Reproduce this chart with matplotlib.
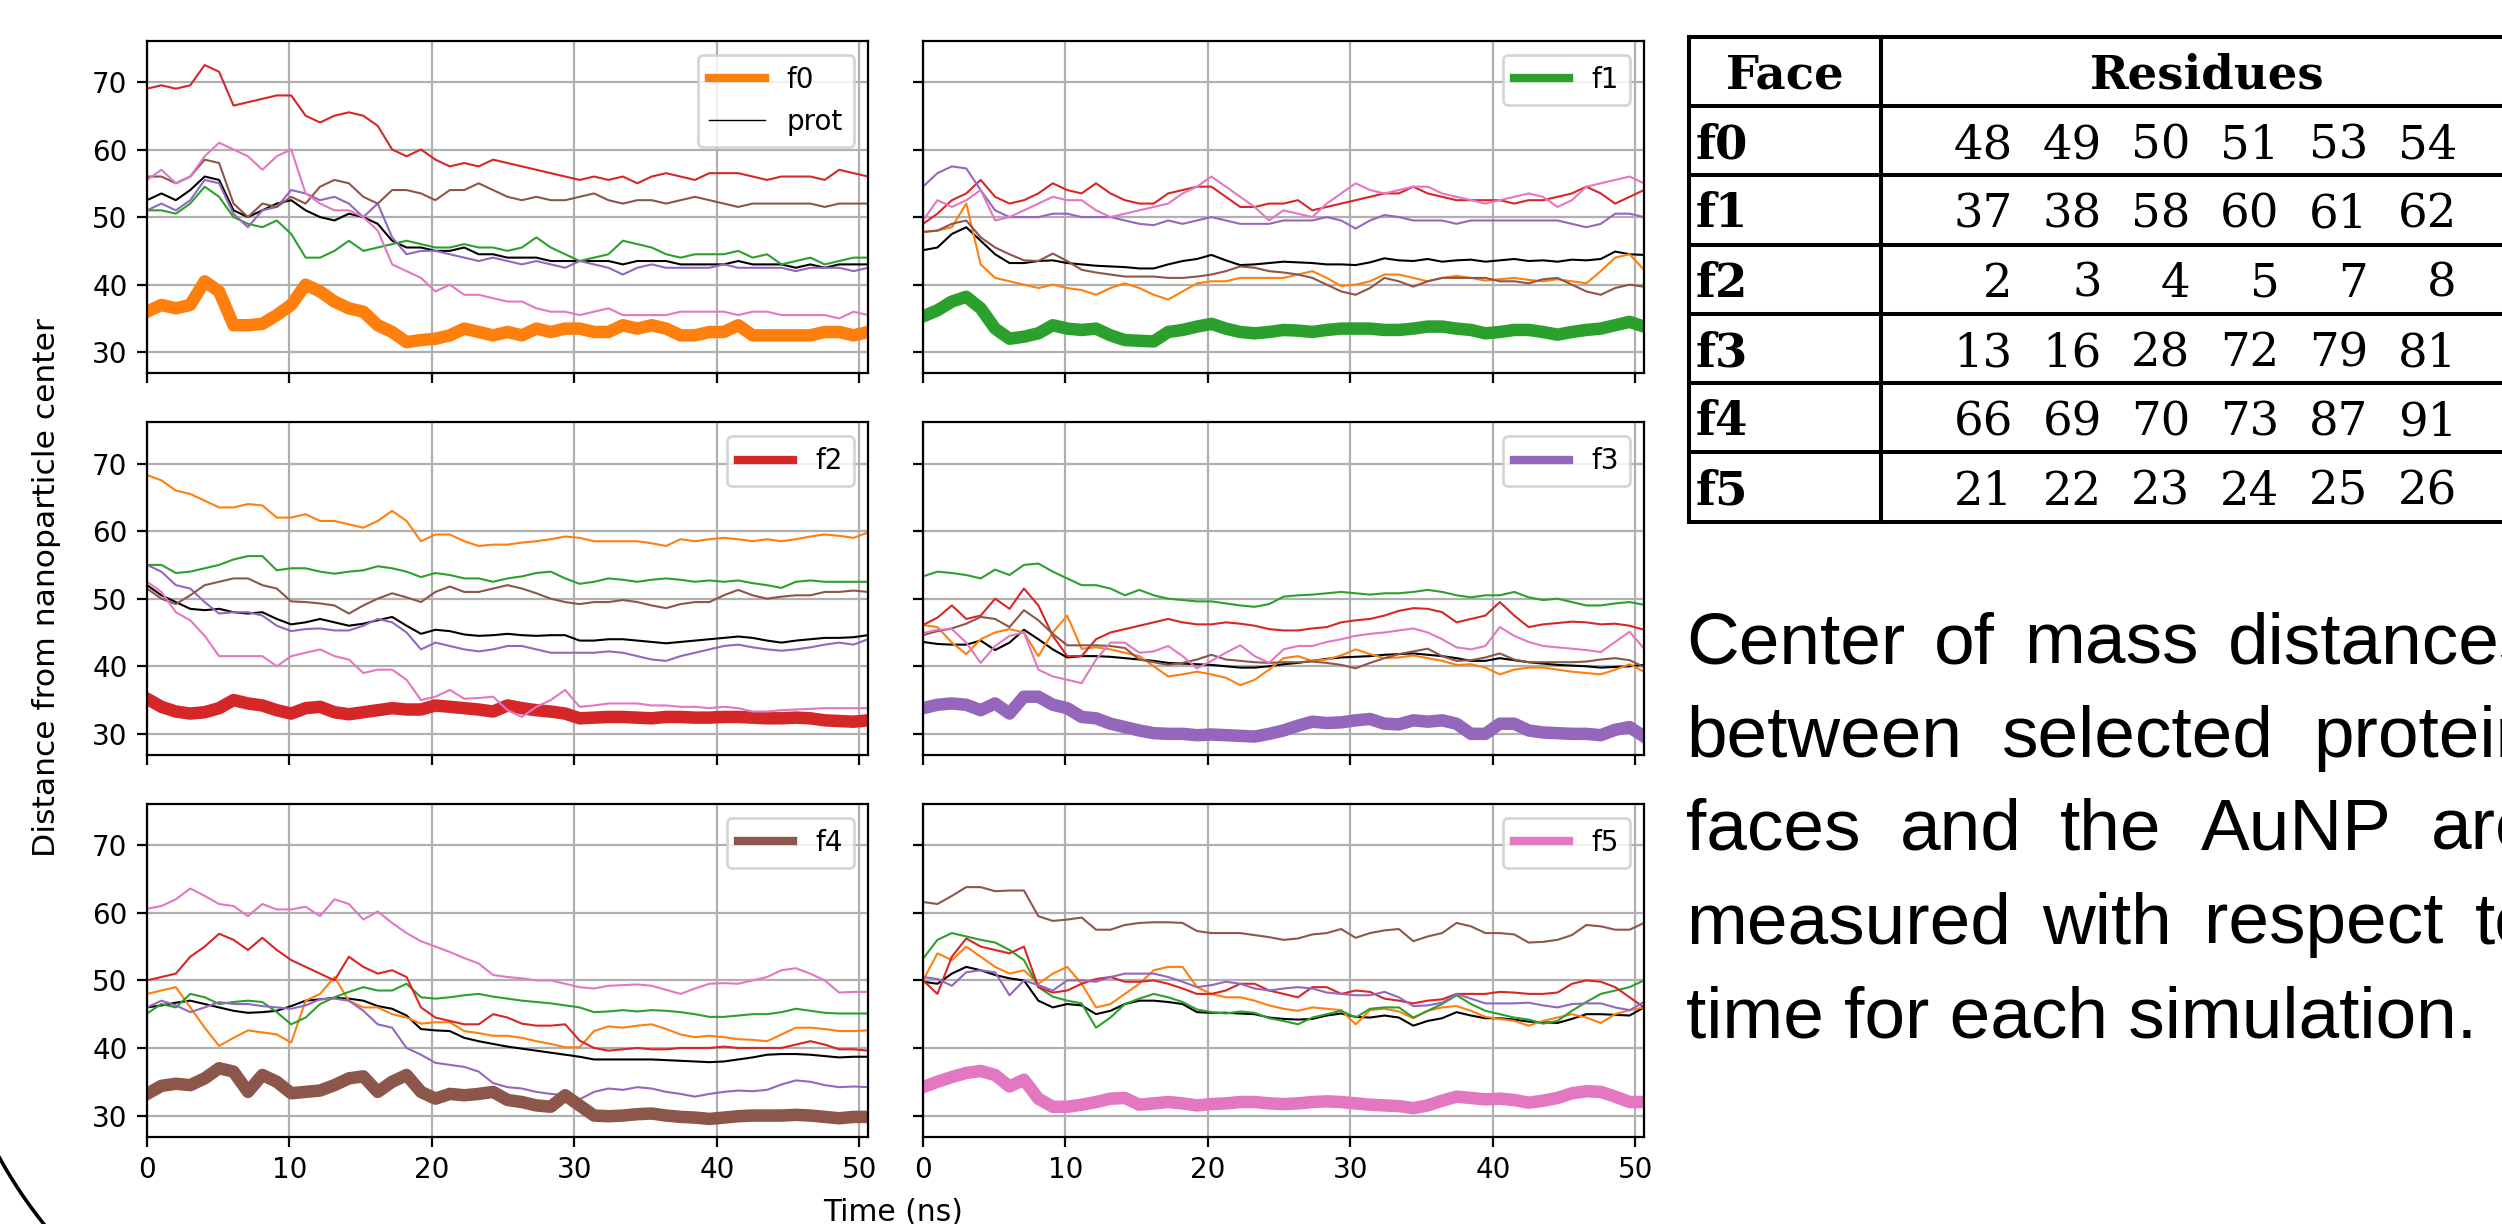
import numpy as np
import matplotlib
matplotlib.use("Agg")
import matplotlib.pyplot as plt
from matplotlib.lines import Line2D

# ------------------------------------------------------------------ data
FACES = ["f0", "f1", "f2", "f3", "f4", "f5"]
SERIES = ["prot", "f0", "f1", "f2", "f3", "f4", "f5"]
COLORS = {"prot": "black", "f0": "#ff7f0e", "f1": "#2ca02c", "f2": "#d62728",
          "f3": "#9467bd", "f4": "#8c564b", "f5": "#e377c2"}

TIME_END_NS = 50.6
time_ns = np.linspace(0, TIME_END_NS, 51)

# simulation f0
sim0_prot = [52.5, 53.5, 52.5, 54, 56, 55.5, 51, 50, 51, 52,
             52.5, 51, 50, 49.5, 50.5, 50, 49, 46.5, 45.5, 45.5,
             45, 45, 45.5, 44.5, 44.5, 44, 44, 44, 43.5, 43.5,
             43.5, 43.5, 43.5, 43, 43.5, 43.5, 43.5, 43, 43, 43,
             43, 43.5, 43, 43, 43, 42.5, 43, 42.5, 43, 43, 43]
sim0_f0 = [36, 37, 36.5, 37, 40.5, 39, 34, 34, 34.2, 35.5,
           37, 40, 39, 37.5, 36.5, 36, 34, 33, 31.5, 31.8,
           32, 32.5, 33.5, 33, 32.5, 33, 32.5, 33.5, 33, 33.5,
           33.5, 33, 33, 34, 33.5, 34, 33.5, 32.5, 32.5, 33,
           33, 34, 32.5, 32.5, 32.5, 32.5, 32.5, 33, 33, 32.5, 33]
sim0_f1 = [51, 51, 50.5, 52, 54.5, 53, 50, 49, 48.5, 49.5,
           47.5, 44, 44, 45, 46.5, 45, 45.5, 46, 46.5, 46,
           45.5, 45.5, 46, 45.5, 45.5, 45, 45.5, 47, 45.5, 44.5,
           43.5, 44, 44.5, 46.5, 46, 45.5, 44.5, 44, 44.5, 44.5,
           44.5, 45, 44, 44.5, 43, 43.5, 44, 43, 43.5, 44, 44]
sim0_f2 = [69, 69.5, 69, 69.5, 72.5, 71.5, 66.5, 67, 67.5, 68,
           68, 65, 64, 65, 65.5, 65, 63.5, 60, 59, 60,
           58.5, 57.5, 58, 57.5, 58.5, 58, 57.5, 57, 56.5, 56,
           55.5, 56, 55.5, 56, 55, 56, 56.5, 56, 55.5, 56.5,
           56.5, 56.5, 56, 55.5, 56, 56, 56, 55.5, 57, 56.5, 56]
sim0_f3 = [51, 52, 51, 52.5, 55.5, 55, 50.5, 48.5, 51, 51.5,
           54, 53.5, 52.5, 53, 52, 50, 52, 47, 44.5, 45,
           45, 44.5, 44, 43.5, 44, 43.5, 43, 43.5, 43, 42.5,
           43.5, 43, 42.5, 41.5, 42.5, 43, 42.5, 42.5, 42.5, 42.5,
           43, 42.5, 42.5, 42.5, 42.5, 42, 42.5, 42.5, 42.5, 42, 42.5]
sim0_f4 = [56, 56, 55, 56, 58.5, 58, 52, 50, 52, 51.5,
           53, 52, 54.5, 55.5, 55, 53, 52, 54, 54, 53.5,
           52.5, 54, 54, 55, 54, 53, 52.5, 53, 52.5, 52.5,
           53, 53.5, 52.5, 52, 52.5, 52.5, 52, 52.5, 53, 52.5,
           52, 51.5, 52, 52, 52, 52, 52, 51.5, 52, 52, 52]
sim0_f5 = [55.5, 57, 55, 56, 59, 61, 60, 59, 57, 59,
           60, 53.5, 52, 51, 51, 50, 48, 43, 42, 41,
           39, 40, 38.5, 38.5, 38, 37.5, 37.5, 36.5, 36, 36,
           35.5, 36, 36.5, 35.5, 35.5, 35.5, 35.5, 36, 36, 36,
           36, 35.5, 36, 36, 35.5, 35.5, 35.5, 35.5, 35, 36, 35.5]

# simulation f1
sim1_prot = [45.1, 45.5, 47.5, 48.5, 46.5, 44.5, 43.2, 43.2, 43.5, 43.6,
             43.2, 43, 42.8, 42.7, 42.6, 42.4, 42.4, 43, 43.5, 43.8,
             44.4, 43.6, 42.9, 43, 43.2, 43.4, 43.3, 43.2, 43, 43,
             42.9, 43.3, 43.9, 43.6, 43.5, 43.8, 43.4, 43.6, 43.7, 43.4,
             43.6, 43.8, 43.5, 43.6, 43.4, 43.7, 43.6, 43.8, 44.9, 44.5, 44.4]
sim1_f0 = [47.8, 48, 48.5, 52, 43, 41, 40.5, 40, 39.5, 40,
           39.5, 39.2, 38.5, 39.5, 40.2, 39.5, 38.5, 37.8, 39, 40.2,
           40.5, 40.5, 41, 41, 41, 41, 41.5, 42, 41, 39.8,
           40, 40.5, 41.5, 41.5, 41, 40.5, 41, 41.3, 41, 40.6,
           40.8, 41, 40.7, 40.5, 40.8, 40.5, 40.2, 42, 44, 44.5, 42.2]
sim1_f1 = [35.3, 36.2, 37.5, 38.2, 36.5, 33.5, 32, 32.3, 32.8, 34,
           33.5, 33.3, 33.5, 32.5, 31.8, 31.7, 31.6, 33, 33.3, 33.8,
           34.2, 33.5, 33, 32.8, 33, 33.3, 33.2, 33, 33.3, 33.5,
           33.5, 33.5, 33.3, 33.3, 33.5, 33.8, 33.8, 33.5, 33.3, 32.8,
           33, 33.3, 33.3, 33, 32.6, 33, 33.3, 33.5, 34, 34.5, 33.8]
sim1_f2 = [49, 50.5, 52.5, 53.5, 55.5, 53, 52, 52.5, 53.5, 55,
           54, 53.5, 55, 53.5, 52.5, 52, 52, 53.5, 54, 54.5,
           54.5, 53, 51.5, 51.5, 52, 52, 52.5, 51, 51.5, 52,
           52.5, 53, 53.5, 53.5, 54.5, 53.5, 53, 52.5, 52.5, 52.5,
           52.5, 52, 52.5, 52.5, 53, 53.5, 54.5, 53.5, 52, 53, 54]
sim1_f3 = [54.5, 56.5, 57.5, 57.2, 54, 51, 50, 50, 50, 50.5,
           50.5, 50, 50, 50, 49.5, 49, 48.8, 49.5, 49, 49.5,
           50, 49.5, 49, 49, 49, 49.5, 49.5, 49.5, 50, 49.5,
           48.3, 49.5, 50.3, 50, 49.5, 49.5, 49.5, 49, 49.5, 49.5,
           49.5, 49.5, 49.5, 49.5, 49.5, 49, 48.5, 49, 50.5, 50.5, 50]
sim1_f4 = [47.8, 48, 49, 49.5, 47, 45.5, 44.5, 43.6, 43.5, 44.6,
           43.5, 42.2, 41.8, 41.5, 41.2, 41.2, 41.2, 41, 41, 41.2,
           41.5, 42, 42.7, 42.5, 42, 41.8, 41.5, 41, 40, 39,
           38.5, 39.5, 41, 40.5, 39.7, 40.5, 41, 41, 41, 41,
           40.5, 40.5, 40.2, 40.8, 41, 40, 39, 38.5, 39.5, 40, 39.7]
sim1_f5 = [49.5, 52.5, 51.5, 52.5, 54, 49.5, 50, 51, 52, 53,
           52.5, 52.5, 51, 50, 50.5, 51, 51.5, 52, 53.5, 54.5,
           56, 54.5, 53, 51.5, 49.5, 51, 50.5, 50, 52, 53.5,
           55, 54, 53.5, 54, 54.5, 54.5, 53.5, 53, 52.5, 52,
           52.5, 53, 53.5, 53, 51.5, 52.5, 54.5, 55, 55.5, 56, 55]

# simulation f2
sim2_prot = [52, 50.5, 49.5, 48.5, 48.3, 48.5, 48, 47.8, 48, 47,
             46.2, 46.5, 47, 46.5, 46, 46.3, 46.8, 47.3, 46, 44.8,
             45.4, 45.2, 44.7, 44.5, 44.6, 44.8, 44.6, 44.5, 44.6, 44.6,
             43.8, 43.8, 44, 44, 43.8, 43.6, 43.4, 43.6, 43.8, 44,
             44.2, 44.4, 44.2, 43.8, 43.5, 43.8, 44, 44.2, 44.2, 44.3, 44.6]
sim2_f0 = [68.3, 67.5, 66, 65.5, 64.5, 63.5, 63.5, 64, 63.8, 62,
           62, 62.5, 61.5, 61.5, 61, 60.5, 61.5, 63, 61.5, 58.5,
           59.5, 59.5, 58.5, 57.8, 58, 58, 58.3, 58.5, 58.8, 59.2,
           59, 58.5, 58.5, 58.5, 58.5, 58.2, 57.8, 58.8, 58.5, 58.8,
           59, 58.8, 58.5, 58.8, 58.5, 58.8, 59.2, 59.5, 59.3, 59, 59.8]
sim2_f1 = [55, 55, 53.8, 54, 54.5, 55, 55.8, 56.3, 56.3, 54.2,
           54.5, 54.5, 54, 53.7, 54, 54.2, 54.8, 54.5, 54, 53.2,
           53.8, 53.5, 53, 53, 52.5, 53, 53.3, 53.8, 54, 53,
           52.2, 52.5, 53, 52.8, 52.5, 52.8, 53, 52.8, 52.5, 52.7,
           52.5, 52.7, 52.3, 52, 51.6, 52.5, 52.7, 52.5, 52.5, 52.5, 52.5]
sim2_f2 = [35.2, 34, 33.3, 33, 33.2, 33.8, 35, 34.5, 34.2, 33.5,
           33, 33.8, 34, 33.2, 32.9, 33.2, 33.5, 33.8, 33.6, 33.6,
           34.2, 34, 33.8, 33.6, 33.3, 34.2, 33.8, 33.5, 33.3, 33,
           32.3, 32.4, 32.5, 32.5, 32.4, 32.3, 32.5, 32.5, 32.4, 32.4,
           32.5, 32.5, 32.4, 32.3, 32.3, 32.4, 32.3, 32, 31.9, 31.8, 32]
sim2_f3 = [55, 54, 52, 51.5, 49.5, 47.8, 48, 48, 47.5, 46,
           45.2, 45.5, 45.6, 45.3, 45.3, 46, 47, 46.5, 45, 42.5,
           43.5, 43, 42.5, 42.2, 42.5, 43, 43, 42.5, 42, 42,
           42, 42, 42.2, 42, 41.5, 41, 40.8, 41.5, 42, 42.5,
           43, 43.2, 42.8, 42.5, 42.3, 42.5, 42.8, 43.2, 43.5, 43.2, 44]
sim2_f4 = [51.5, 50, 49.2, 50.5, 52, 52.5, 53, 53, 52, 51.5,
           49.6, 49.5, 49.3, 49, 47.8, 49, 50, 50.8, 50.2, 49.5,
           51, 51.8, 51, 51, 51.5, 52, 51.5, 50.8, 50, 49.5,
           49.2, 49.5, 49.5, 49.8, 49.5, 49, 48.6, 49.2, 49.5, 49.5,
           50.5, 51.3, 50.5, 50, 50.3, 50.5, 50.5, 51, 51, 51.2, 51]
sim2_f5 = [52.5, 51, 48, 46.8, 44.5, 41.5, 41.5, 41.5, 41.5, 40,
           41.5, 42, 42.5, 41.5, 41, 39, 39.5, 39.5, 38, 35,
           35.5, 36.5, 35.2, 35.3, 35.5, 33.5, 32.5, 34, 35, 36.5,
           34, 34.2, 34.5, 34.5, 34.5, 34.2, 34.2, 34, 34, 33.8,
           34, 33.8, 33.3, 33.3, 33.5, 33.6, 33.7, 33.8, 33.8, 33.8, 33.8]

# simulation f3
sim3_prot = [43.6, 43.3, 43.2, 43.2, 43.8, 42.4, 43.5, 45.4, 44, 42.5,
             41.3, 41.5, 41.5, 41.4, 41.2, 41, 40.8, 40.5, 40.4, 40.3,
             40.2, 40, 39.8, 39.8, 40, 40.3, 40.5, 40.8, 41.1, 41.3,
             41.4, 41.5, 41.7, 41.8, 41.9, 41.7, 41.5, 41.2, 40.8, 40.8,
             41.2, 40.9, 40.6, 40.4, 40.2, 40.1, 40, 39.8, 39.9, 40, 40.2]
sim3_f0 = [46.1, 45.8, 43.5, 41.8, 44, 45, 45.5, 45, 41.5, 45,
           47.5, 42.6, 42.8, 42.5, 42, 41.5, 40, 38.5, 38.8, 39.2,
           38.8, 38.3, 37.2, 38, 39.5, 41.2, 41.5, 40.8, 41, 41.6,
           42.5, 41.8, 41.2, 41.3, 41.6, 41.2, 40.8, 40.2, 40.3, 39.8,
           38.8, 39.5, 39.8, 39.8, 39.5, 39.2, 39, 38.8, 39.5, 40.3, 39.2]
sim3_f1 = [53.3, 54, 53.8, 53.5, 53, 54.3, 53.5, 55, 55.2, 54,
           53, 52, 52, 51.5, 50.5, 51.3, 50.5, 50, 49.8, 49.6,
           49.6, 49.3, 49, 48.8, 49.2, 50.3, 50.5, 50.6, 50.8, 51,
           50.8, 50.6, 50.8, 50.8, 51, 51.3, 51, 50.5, 50.2, 50.5,
           50.5, 51, 50.2, 49.8, 50, 49.5, 49, 49, 49.3, 49.5, 49.1]
sim3_f2 = [46.1, 47.2, 49, 47, 47.5, 50, 48.5, 51.5, 49, 44.5,
           41.5, 41.5, 44, 45, 45.5, 46, 46.5, 47, 46.5, 46.2,
           46.2, 46.5, 46.3, 46, 45.5, 45.3, 45.3, 45.6, 45.8, 46.5,
           46.8, 47, 47.5, 48.2, 48.6, 48.5, 48, 46.5, 47, 47.5,
           49.5, 47.5, 45.8, 46.2, 46.4, 46.6, 46.5, 46.2, 46.3, 46, 45.4]
sim3_f3 = [33.8, 34.3, 34.5, 34.3, 33.5, 34.5, 33, 35.5, 35.5, 34.3,
           33.8, 32.5, 32.3, 31.5, 31, 30.5, 30.1, 30, 30, 29.8,
           29.9, 29.8, 29.7, 29.6, 30, 30.5, 31.2, 31.8, 31.6, 31.7,
           32, 32.2, 31.5, 31.4, 32, 31.8, 32, 31.5, 30, 30,
           31.5, 31.5, 30.5, 30.2, 30.1, 30, 30, 29.8, 30.6, 31, 29.6]
sim3_f4 = [44.6, 45.2, 45.6, 46.3, 47.3, 47, 45.8, 48.3, 46.8, 44.8,
           43.1, 43.1, 43.1, 43, 42.7, 41, 40.6, 40.2, 40.5, 41,
           41.7, 41, 40.8, 40.6, 40.5, 40.6, 40.6, 40.7, 40.5, 40.2,
           39.7, 40.5, 41.2, 41.8, 42.2, 42.6, 41.5, 40.8, 40.9, 41.3,
           41.9, 41, 40.6, 40.6, 40.6, 40.6, 40.7, 41, 41.2, 40.9, 39.9]
sim3_f5 = [44.9, 45.4, 45.5, 43.5, 40.5, 43, 44.5, 45, 39.5, 38.5,
           38, 37.5, 41, 43.5, 43.5, 42, 42.2, 43, 41.5, 39.7,
           40.8, 42, 43.1, 41.5, 40.5, 42.5, 43, 43, 43.6, 44,
           44.5, 44.8, 45, 45.3, 45.6, 45, 44, 42.8, 42.5, 43,
           45.8, 44.5, 43.6, 43, 42.8, 42.6, 42.4, 42.1, 43.6, 45.1, 42.6]

# simulation f4
sim4_prot = [46, 46.3, 46.7, 47, 46.5, 46, 45.5, 45.2, 45.3, 45.5,
             46.2, 47, 47.2, 47.4, 47.3, 47, 46.2, 45.8, 44.8, 42.8,
             42.6, 42.5, 41.5, 41, 40.6, 40.2, 39.9, 39.6, 39.3, 39,
             38.7, 38.3, 38.3, 38.3, 38.3, 38.3, 38.2, 38.1, 38, 37.9,
             38, 38.3, 38.6, 39, 39.1, 39.1, 39, 38.8, 38.6, 38.7, 38.7]
sim4_f0 = [48, 48.5, 49, 46, 43, 40.3, 41.5, 42.6, 42.3, 42,
           40.8, 47, 48, 50.5, 47, 46, 46, 45, 44.5, 43.6,
           43.8, 43.8, 42.5, 42.2, 41.8, 41.8, 41.5, 41, 40.6, 40.1,
           40.1, 42.5, 43.2, 43, 43.3, 43.5, 42.8, 42, 41.6, 41.8,
           41.6, 41.3, 41.2, 41, 42, 43, 43, 42.8, 42.5, 42.5, 42.6]
sim4_f1 = [45.1, 46.5, 46, 48, 47.5, 46.5, 46.8, 47, 46.8, 45.3,
           43.5, 44.5, 46.5, 47.5, 48.3, 49, 48.5, 48.5, 49.5, 47.5,
           47.3, 47.5, 47.8, 48, 47.6, 47.3, 47, 46.8, 46.6, 46.3,
           46, 45.3, 45.4, 45.6, 45.4, 45.6, 45.5, 45.3, 45, 44.6,
           44.6, 44.8, 45, 45, 45.3, 45.8, 45.5, 45.2, 45.1, 45.1, 45.1]
sim4_f2 = [50, 50.5, 51, 53.5, 55, 56.9, 56, 54.5, 56.3, 54.5,
           53, 52, 51, 50, 53.5, 52, 51, 51.5, 50.5, 46,
           44.5, 44, 43.5, 43.5, 45, 44.5, 43.6, 43.3, 43.3, 43.5,
           41.1, 40, 39.6, 39.8, 40, 39.8, 39.8, 40, 40, 40,
           40.2, 40, 40, 40, 40, 40.5, 41, 40.5, 39.8, 39.8, 39.6]
sim4_f3 = [46, 47, 46.3, 45.3, 46, 46.8, 46.5, 46.5, 46.2, 46,
           45.8, 46.3, 47.2, 47.3, 47, 45.5, 43.5, 43, 40, 39,
           37.8, 37.5, 37.2, 36.5, 34.8, 34.2, 34, 33.5, 33.2, 33,
           32.4, 33.5, 34, 33.8, 34.2, 34, 33.5, 33.2, 32.8, 33.2,
           33.5, 33.7, 33.6, 33.8, 34.6, 35.2, 35, 34.5, 34.2, 34.3, 34.2]
sim4_f4 = [33.2, 34.4, 34.7, 34.5, 35.5, 37, 36.5, 33.5, 36, 35,
           33.3, 33.5, 33.7, 34.5, 35.5, 35.8, 33.5, 35, 36, 33.5,
           32.5, 33.2, 33, 33.2, 33.5, 32.3, 32, 31.5, 31.3, 33,
           31.5, 30, 29.9, 30, 30.2, 30.3, 30, 29.8, 29.7, 29.5,
           29.7, 29.9, 30, 30, 30, 30.1, 30, 29.8, 29.6, 29.8, 29.8]
sim4_f5 = [60.6, 61, 62, 63.6, 62.5, 61.3, 61, 59.5, 61.3, 60.5,
           60.5, 60.9, 59.5, 62, 61.3, 59, 60.2, 58.5, 57, 55.8,
           55, 54.2, 53.3, 52.5, 50.8, 50.5, 50.3, 50, 50, 49.5,
           49, 48.8, 49.2, 49.3, 49.4, 49.2, 48.6, 48, 48.8, 49.5,
           49.6, 49.5, 50, 50.5, 51.5, 51.8, 51, 50, 48.2, 48.3, 48.3]

# simulation f5
sim5_prot = [49.8, 49.5, 51, 52, 51.5, 50.8, 50.3, 50, 47, 46,
             46.5, 46.3, 45, 45.5, 46.5, 47, 47, 46.8, 46.5, 45.3,
             45.2, 45.2, 45.1, 45, 44.5, 44.3, 44.2, 44.3, 44.8, 45.1,
             44.6, 44.5, 44.8, 44.5, 43.3, 44, 44.4, 45.3, 44.8, 44.4,
             44.4, 44.2, 43.9, 43.8, 43.7, 44.3, 45, 45, 44.9, 44.8, 46]
sim5_f0 = [50, 54, 53, 55, 53.5, 52, 51, 51.5, 49.5, 51,
           52, 49.5, 46, 46.5, 48, 49.5, 51.5, 52, 52, 49,
           48, 47.5, 47.5, 47, 46.3, 45.8, 45.5, 46, 45.8, 45.6,
           43.5, 45.6, 45.8, 45.4, 44.4, 45.5, 46, 46.2, 45.5, 44.6,
           44.3, 44, 43.3, 44, 44.5, 45, 44.5, 43.7, 45, 45.6, 46]
sim5_f1 = [53.2, 56, 57, 56.5, 56, 55.6, 54.5, 53, 49, 47.6,
           47, 46.6, 43, 44.5, 46.5, 47.3, 48, 47.5, 46.8, 45.7,
           45.3, 45.1, 45.4, 45.2, 44.4, 44, 43.5, 44.5, 45, 45.5,
           44.5, 45.8, 46, 46, 44.5, 45.5, 46.5, 47.8, 46.5, 45.5,
           45, 44.5, 44.2, 43.6, 44, 45.5, 46.8, 48, 48.5, 49, 50]
sim5_f2 = [50, 48, 53.5, 56.2, 55, 54.5, 54, 55, 49, 48.2,
           48.5, 49.5, 50.2, 50.5, 49.8, 49.8, 50, 49.5, 48.8, 48,
           48, 48.5, 49.5, 49.5, 48.5, 48, 47.5, 49, 49, 48,
           48.5, 48.3, 47.3, 47, 46.6, 47, 47.2, 48, 48, 48,
           48.3, 48.2, 48, 48, 48.2, 49.5, 50, 49.8, 49, 47.5, 46]
sim5_f3 = [50.5, 50.2, 49.2, 51.2, 51.5, 51.2, 47.8, 50, 49.3, 48.5,
           50, 50, 49.8, 50.5, 51, 51, 51, 50.5, 49.8, 49,
           49.3, 49.8, 49.5, 48.8, 48.5, 48.8, 49, 48.8, 48.2, 48,
           47.8, 47.8, 48.3, 47.5, 46.2, 46.3, 46.7, 48, 47.3, 46.6,
           46.6, 46.6, 46.7, 46.3, 46, 46.5, 46.6, 46.6, 46, 45.6, 46.8]
sim5_f4 = [61.6, 61.3, 62.5, 63.8, 63.8, 63.2, 63.3, 63.3, 59.5, 58.8,
           59, 59.3, 57.5, 57.5, 58.2, 58.5, 58.6, 58.6, 58.5, 57.3,
           57, 57, 57, 56.7, 56.4, 56, 56.2, 56.8, 57, 57.6,
           56.3, 57, 57.4, 57.6, 55.8, 56.5, 57, 58.5, 58, 57,
           57, 56.8, 55.6, 55.7, 56, 56.7, 58.2, 58, 57.5, 57.5, 58.5]
sim5_f5 = [34.2, 35, 35.7, 36.3, 36.6, 36, 34.3, 35.3, 32.5, 31.3,
           31.3, 31.6, 32, 32.5, 32.6, 31.6, 31.8, 32, 31.8, 31.5,
           31.7, 31.8, 32, 32, 31.8, 31.7, 31.8, 32, 32.1, 32,
           31.8, 31.6, 31.5, 31.4, 31.1, 31.5, 32.2, 32.8, 32.6, 32.4,
           32.5, 32.3, 31.9, 32.2, 32.6, 33.3, 33.6, 33.5, 32.8, 32, 32]

SIMS = {
    "f0": dict(prot=sim0_prot, f0=sim0_f0, f1=sim0_f1, f2=sim0_f2, f3=sim0_f3, f4=sim0_f4, f5=sim0_f5),
    "f1": dict(prot=sim1_prot, f0=sim1_f0, f1=sim1_f1, f2=sim1_f2, f3=sim1_f3, f4=sim1_f4, f5=sim1_f5),
    "f2": dict(prot=sim2_prot, f0=sim2_f0, f1=sim2_f1, f2=sim2_f2, f3=sim2_f3, f4=sim2_f4, f5=sim2_f5),
    "f3": dict(prot=sim3_prot, f0=sim3_f0, f1=sim3_f1, f2=sim3_f2, f3=sim3_f3, f4=sim3_f4, f5=sim3_f5),
    "f4": dict(prot=sim4_prot, f0=sim4_f0, f1=sim4_f1, f2=sim4_f2, f3=sim4_f3, f4=sim4_f4, f5=sim4_f5),
    "f5": dict(prot=sim5_prot, f0=sim5_f0, f1=sim5_f1, f2=sim5_f2, f3=sim5_f3, f4=sim5_f4, f5=sim5_f5),
}

Y_TICKS = [30, 40, 50, 60, 70]
X_TICKS = [0, 10, 20, 30, 40, 50]

TABLE_HEADER = ["Face", "Residues"]
TABLE_FACES = ["f0", "f1", "f2", "f3", "f4", "f5"]
res_f0 = [48, 49, 50, 51, 53, 54]
res_f1 = [37, 38, 58, 60, 61, 62]
res_f2 = [2, 3, 4, 5, 7, 8]
res_f3 = [13, 16, 28, 72, 79, 81]
res_f4 = [66, 69, 70, 73, 87, 91]
res_f5 = [21, 22, 23, 24, 25, 26]
RESIDUES = [res_f0, res_f1, res_f2, res_f3, res_f4, res_f5]

CAPTION_LINES = ["Center of mass distances",
                 "between selected protein",
                 "faces and the AuNP are",
                 "measured with respect to",
                 "time for each simulation."]

# ------------------------------------------------------------------ figure
W, H = 2502, 1224
fig = plt.figure(figsize=(W / 200, H / 200), dpi=200)

col_left = [147, 923]
col_w = 721
row_top = [40.7, 422.3, 804.0]
row_h = 332.5
THIN, THICK = 0.75, 4.5

for i, face in enumerate(FACES):
    r, c = divmod(i, 2)
    ax = fig.add_axes([col_left[c] / W, 1 - (row_top[r] + row_h) / H, col_w / W, row_h / H])
    for key in SERIES:
        lw = THICK if key == face else THIN
        ax.plot(time_ns, SIMS[face][key], color=COLORS[key], lw=lw)
    ax.set_xlim(0, TIME_END_NS)
    ax.set_ylim(26.9, 76.1)
    ax.set_xticks(X_TICKS)
    ax.set_yticks(Y_TICKS)
    ax.grid(True)
    ax.set_axisbelow(True)
    if c == 1:
        ax.tick_params(labelleft=False)
    if r < 2:
        ax.tick_params(labelbottom=False)
    handles = [Line2D([], [], color=COLORS[face], lw=3)]
    labels = [face]
    if i == 0:
        handles.append(Line2D([], [], color="black", lw=0.5))
        labels.append("prot")
    ax.legend(handles, labels, loc="upper right")

fig.text(46.5 / W, 1 - 588 / H, "Distance from nanoparticle center",
         rotation=90, ha="center", va="center", fontsize=11.3)
fig.text(893 / W, 1 - 1221 / H, "Time (ns)", ha="center", va="baseline", fontsize=10.7)

# ------------------------------------------------------------------ overlay (pixel coords)
ov = fig.add_axes([0, 0, 1, 1])
ov.set_xlim(0, W)
ov.set_ylim(H, 0)
ov.axis("off")

# decorative arc bottom-left
th = np.radians(np.linspace(130, 165, 80))
cx, cy, R = 410, 931, 469
ov.plot(cx + R * np.cos(th), cy + R * np.sin(th), color="black", lw=1.3)

# table
t_left, t_div, t_top, t_row = 1689, 1881, 36.7, 69.3
n_rows = len(TABLE_FACES) + 1
tlw = 1.45
for k in range(n_rows + 1):
    y = t_top + k * t_row
    ov.plot([t_left, W + 20], [y, y], color="black", lw=tlw, solid_capstyle="projecting")
for x in (t_left, t_div):
    ov.plot([x, x], [t_top, t_top + n_rows * t_row], color="black", lw=tlw,
            solid_capstyle="projecting")

tfs = 16.8
base_off = 17.5
ov.text((t_left + t_div) / 2, t_top + t_row / 2 + base_off, TABLE_HEADER[0],
        family="DejaVu Serif", weight="bold", fontsize=tfs, ha="center", va="baseline")
ov.text(2207, t_top + t_row / 2 + base_off, TABLE_HEADER[1],
        family="DejaVu Serif", weight="bold", fontsize=tfs, ha="center", va="baseline")
for k, (fname, res) in enumerate(zip(TABLE_FACES, RESIDUES)):
    yb = t_top + (k + 1.5) * t_row + base_off
    ov.text(t_left + 7, yb, fname, family="DejaVu Serif", weight="bold",
            fontsize=tfs, ha="left", va="baseline")
    for j, v in enumerate(res):
        ov.text(2013 + j * 88.8, yb, str(v), family="DejaVu Serif",
                fontsize=tfs, ha="right", va="baseline")

# justified caption
cap_fs = 26.3
cap_x0, cap_w = 1686, 850
cap_base0, cap_gap = 663, 93.5
renderer = fig.canvas.get_renderer()
for k, line in enumerate(CAPTION_LINES):
    y = cap_base0 + k * cap_gap
    if k == len(CAPTION_LINES) - 1:
        ov.text(cap_x0, y, line, family="Liberation Sans", fontsize=cap_fs,
                ha="left", va="baseline")
        continue
    words = line.split()
    widths = []
    for wd in words:
        t = ov.text(0, y, wd, family="Liberation Sans", fontsize=cap_fs)
        widths.append(t.get_window_extent(renderer).width)
        t.remove()
    gap = (cap_w - sum(widths)) / (len(words) - 1)
    x = cap_x0
    for wd, wdt in zip(words, widths):
        ov.text(x, y, wd, family="Liberation Sans", fontsize=cap_fs,
                ha="left", va="baseline")
        x += wdt + gap

fig.savefig("out.png", dpi=200)
